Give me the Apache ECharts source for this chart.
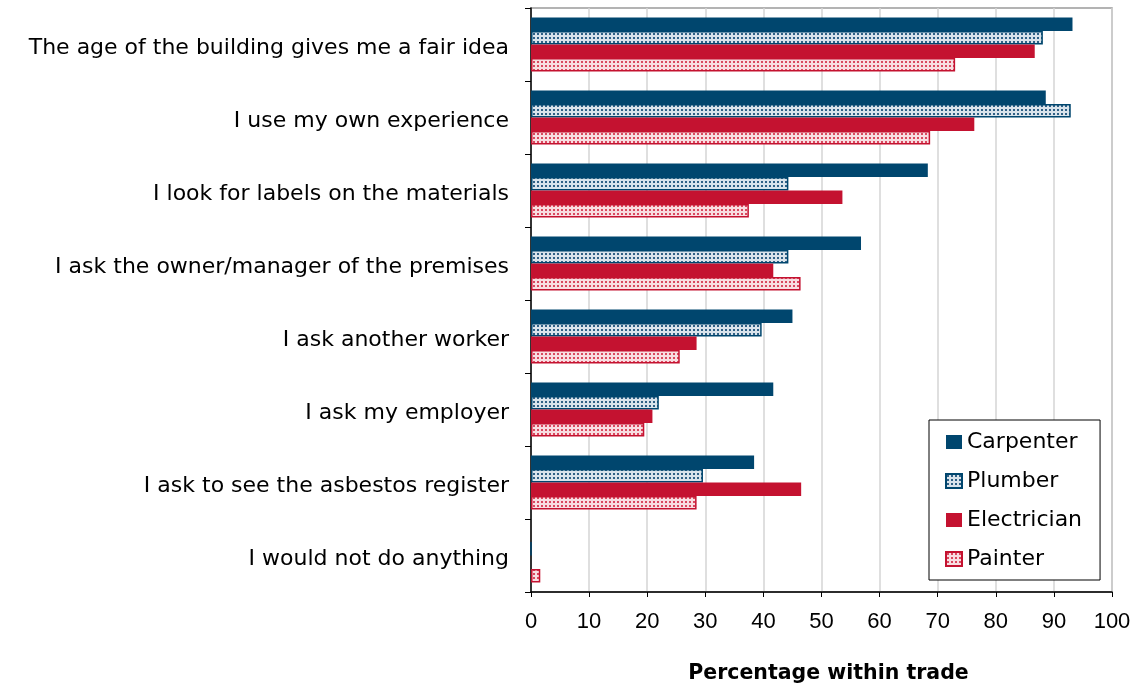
<!DOCTYPE html>
<html>
<head>
<meta charset="utf-8">
<script src="https://cdn.jsdelivr.net/npm/echarts@6/dist/echarts.min.js"></script>
<style>
  html, body { margin: 0; padding: 0; background: #ffffff; }
  #chart { width: 1139px; height: 684px; }
</style>
</head>
<body>
<div id="chart"></div>
<script>
// How tradespeople judge whether a building may contain asbestos
const categories = [
  'The age of the building gives me a fair idea',
  'I use my own experience',
  'I look for labels on the materials',
  'I ask the owner/manager of the premises',
  'I ask another worker',
  'I ask my employer',
  'I ask to see the asbestos register',
  'I would not do anything'
];
const carpenter   = [93.2, 88.6, 68.3, 56.8, 45.0, 41.7, 38.4, 0];
const plumber     = [88.1, 92.9, 44.3, 44.3, 39.7, 22.0, 29.6, 0];
const electrician = [86.7, 76.3, 53.6, 41.7, 28.5, 20.9, 46.5, 0];
const painter     = [73.0, 68.7, 37.5, 46.4, 25.6, 19.5, 28.5, 1.6];
const xTicks = [0, 10, 20, 30, 40, 50, 60, 70, 80, 90, 100];

const NAVY = '#00466e';
const RED = '#c41230';

// Small dotted fill used for the hatched series
function dotPattern(bg, dot) {
  const c = document.createElement('canvas');
  c.width = 4; c.height = 4;
  const ctx = c.getContext('2d');
  ctx.fillStyle = bg;
  ctx.fillRect(0, 0, 4, 4);
  ctx.fillStyle = dot;
  ctx.fillRect(1, 1, 2, 2);
  return { image: c, repeat: 'repeat' };
}

const chart = echarts.init(document.getElementById('chart'), null, { renderer: 'canvas' });

const barCommon = { type: 'bar', barGap: '0%', barCategoryGap: '26%' };

chart.setOption({
  animation: false,
  backgroundColor: '#ffffff',
  grid: {
    left: 531, right: 27, top: 8, bottom: 92,
    outerBoundsMode: 'none',
    containLabel: false,
    show: true, borderColor: '#9a9a9a', borderWidth: 1.5, backgroundColor: 'transparent'
  },
  legend: {
    orient: 'vertical',
    left: 929, top: 420,
    padding: [11, 18, 10, 16],
    itemWidth: 16, itemHeight: 14, itemGap: 17,
    backgroundColor: '#ffffff',
    borderColor: '#000000', borderWidth: 1,
    icon: 'rect',
    textStyle: { fontFamily: 'DejaVu Sans', fontSize: 22, color: '#000000' },
    data: ['Carpenter', 'Plumber', 'Electrician', 'Painter']
  },
  xAxis: {
    type: 'value',
    min: xTicks[0], max: xTicks[xTicks.length - 1], interval: 10,
    name: 'Percentage within trade',
    nameLocation: 'middle',
    nameGap: 71,
    nameTextStyle: {
      fontFamily: 'DejaVu Sans', fontWeight: 'bold', fontSize: 20.5, color: '#000000',
      padding: [0, 0, 0, 14]
    },
    axisLine: { show: true, lineStyle: { color: '#000000', width: 1.5 } },
    axisTick: { show: true, inside: false, length: 5, lineStyle: { color: '#000000' } },
    axisLabel: { margin: 19, fontFamily: 'Liberation Sans', fontSize: 22, color: '#000000' },
    splitLine: { show: true, lineStyle: { color: '#d4d4d4', width: 1.5 } }
  },
  yAxis: {
    type: 'category',
    inverse: true,
    data: categories,
    axisLine: { show: true, lineStyle: { color: '#000000', width: 1.5 } },
    axisTick: { show: true, inside: false, length: 6, lineStyle: { color: '#000000' } },
    axisLabel: {
      margin: 22,
      formatter: function (v) { return '{c|' + v + '}'; },
      rich: {
        c: { fontFamily: 'DejaVu Sans', fontSize: 22, color: '#000000', padding: [7, 0, 0, 0] }
      }
    },
    splitLine: { show: false }
  },
  series: [
    Object.assign({}, barCommon, {
      name: 'Carpenter', data: carpenter,
      itemStyle: { color: NAVY }
    }),
    Object.assign({}, barCommon, {
      name: 'Plumber', data: plumber,
      itemStyle: { color: dotPattern('#d9e3eb', '#2f6085'), borderColor: NAVY, borderWidth: 1.5 }
    }),
    Object.assign({}, barCommon, {
      name: 'Electrician', data: electrician,
      itemStyle: { color: RED }
    }),
    Object.assign({}, barCommon, {
      name: 'Painter', data: painter,
      itemStyle: { color: dotPattern('#f8dde1', '#d9485f'), borderColor: RED, borderWidth: 1.5 }
    })
  ]
});
</script>
</body>
</html>
